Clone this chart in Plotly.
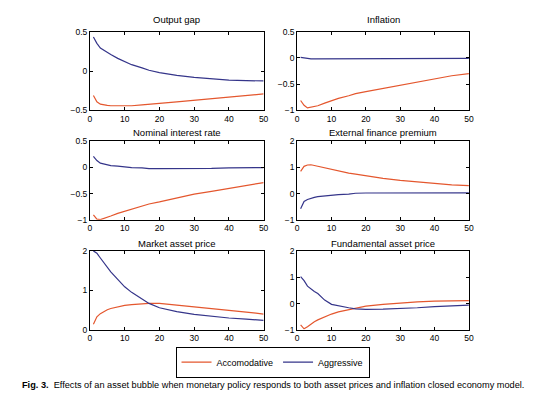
import plotly.graph_objects as go

periods = [1, 2, 3, 4, 5, 6, 8, 10, 12, 15, 17, 20, 25, 30, 35, 40, 45, 50]

output_gap_acc = [-0.31, -0.39, -0.42, -0.43, -0.435, -0.44, -0.44, -0.44, -0.44, -0.43, -0.42, -0.41, -0.39, -0.37, -0.35, -0.33, -0.31, -0.29]
output_gap_agg = [0.43, 0.35, 0.29, 0.26, 0.23, 0.21, 0.16, 0.12, 0.08, 0.04, 0.01, -0.02, -0.055, -0.08, -0.10, -0.115, -0.122, -0.125]

inflation_acc = [-0.81, -0.90, -0.95, -0.94, -0.925, -0.91, -0.86, -0.81, -0.77, -0.72, -0.68, -0.64, -0.58, -0.51, -0.45, -0.39, -0.34, -0.30]
inflation_agg = [0.01, 0.0, -0.02, -0.02, -0.02, -0.02, -0.02, -0.02, -0.02, -0.02, -0.01, -0.01, -0.01, -0.01, -0.01, -0.01, -0.01, -0.01]

nominal_acc = [-0.91, -0.99, -1.0, -0.98, -0.95, -0.93, -0.88, -0.84, -0.80, -0.74, -0.70, -0.66, -0.59, -0.51, -0.46, -0.40, -0.34, -0.29]
nominal_agg = [0.21, 0.13, 0.08, 0.06, 0.045, 0.035, 0.025, 0.005, -0.005, -0.01, -0.025, -0.025, -0.025, -0.025, -0.02, -0.01, -0.005, -0.005]

efp_acc = [0.85, 1.04, 1.09, 1.10, 1.07, 1.04, 0.96, 0.90, 0.85, 0.78, 0.74, 0.67, 0.58, 0.50, 0.44, 0.38, 0.33, 0.30]
efp_agg = [-0.58, -0.30, -0.23, -0.18, -0.15, -0.12, -0.09, -0.06, -0.04, -0.02, 0.01, 0.02, 0.025, 0.025, 0.025, 0.025, 0.025, 0.025]

market_acc = [0.14, 0.33, 0.41, 0.47, 0.51, 0.54, 0.58, 0.62, 0.64, 0.66, 0.67, 0.67, 0.62, 0.58, 0.54, 0.50, 0.45, 0.40]
market_agg = [2.0, 1.94, 1.82, 1.70, 1.57, 1.47, 1.28, 1.09, 0.95, 0.78, 0.67, 0.56, 0.46, 0.39, 0.34, 0.30, 0.27, 0.24]

fund_acc = [-0.81, -0.96, -0.88, -0.78, -0.69, -0.62, -0.50, -0.40, -0.32, -0.24, -0.19, -0.10, -0.03, 0.02, 0.06, 0.09, 0.11, 0.11]
fund_agg = [1.02, 0.87, 0.66, 0.55, 0.46, 0.38, 0.13, -0.03, -0.09, -0.16, -0.20, -0.22, -0.21, -0.19, -0.16, -0.12, -0.09, -0.06]

titles = ["Output gap", "Inflation", "Nominal interest rate", "External finance premium",
          "Market asset price", "Fundamental asset price"]
acc_series = [output_gap_acc, inflation_acc, nominal_acc, efp_acc, market_acc, fund_acc]
agg_series = [output_gap_agg, inflation_agg, nominal_agg, efp_agg, market_agg, fund_agg]
y_ranges = [[-0.5, 0.5], [-1, 0.5], [-1, 0.5], [-1, 2], [0, 2], [-1, 2]]
y_ticks = [[-0.5, 0, 0.5], [-1, -0.5, 0, 0.5], [-1, -0.5, 0, 0.5], [-1, 0, 1, 2], [0, 1, 2], [-1, 0, 1, 2]]
x_ticks = [0, 10, 20, 30, 40, 50]

W, H = 534, 399
RED = "#e4572e"
BLUE = "#35358a"

# pixel layout
col_x = [(81, 257), (291, 465)]
row_y = [(19, 100), (131.5, 212), (244, 325)]
title_y = [7, 123, 236]

fig = go.Figure()
layout = dict(
    width=W, height=H, margin=dict(l=0, r=0, t=0, b=0),
    paper_bgcolor="white", plot_bgcolor="white",
    font=dict(family="Liberation Sans, Arial, sans-serif", size=8.5, color="black"),
    showlegend=True,
)
annotations = []
for i in range(6):
    r, c = divmod(i, 2)
    xa = "x" if i == 0 else f"x{i+1}"
    ya = "y" if i == 0 else f"y{i+1}"
    xkey = "xaxis" if i == 0 else f"xaxis{i+1}"
    ykey = "yaxis" if i == 0 else f"yaxis{i+1}"
    x0, x1 = col_x[c]
    y0, y1 = row_y[r]
    layout[xkey] = dict(domain=[x0 / W, x1 / W], anchor=ya, range=[0, 50], tickvals=x_ticks,
                        showgrid=False, zeroline=False, showline=True, linecolor="black", linewidth=1,
                        mirror="allticks", ticks="inside", ticklen=3, tickcolor="black",
                        tickfont=dict(size=8.5))
    layout[ykey] = dict(domain=[1 - y1 / H, 1 - y0 / H], anchor=xa, range=y_ranges[i], tickvals=y_ticks[i],
                        showgrid=False, zeroline=False, showline=True, linecolor="black", linewidth=1,
                        mirror="allticks", ticks="inside", ticklen=3, tickcolor="black",
                        tickfont=dict(size=8.5))
    fig.add_trace(go.Scatter(x=periods, y=acc_series[i], mode="lines", line=dict(color=RED, width=1.2),
                             name="Accomodative", xaxis=xa, yaxis=ya, showlegend=(i == 0)))
    fig.add_trace(go.Scatter(x=periods, y=agg_series[i], mode="lines", line=dict(color=BLUE, width=1.2),
                             name="Aggressive", xaxis=xa, yaxis=ya, showlegend=(i == 0)))
    annotations.append(dict(text=titles[i], xref="paper", yref="paper", x=(x0 + x1) / 2 / W,
                            y=1 - title_y[r] / H, xanchor="center", yanchor="middle", showarrow=False,
                            font=dict(size=9.5)))

annotations.append(dict(
    text="<b>Fig. 3.</b>  Effects of an asset bubble when monetary policy responds to both asset prices and inflation closed economy model.",
    xref="paper", yref="paper", x=10 / W, y=1 - 382 / H, xanchor="left", yanchor="middle",
    showarrow=False, font=dict(family="Liberation Sans Narrow, Liberation Sans, Arial", size=9.2)))

layout["annotations"] = annotations
layout["legend"] = dict(orientation="h", x=266 / W, y=1 - 358 / H, xanchor="center", yanchor="middle",
                        bordercolor="black", borderwidth=1, bgcolor="white", font=dict(size=9),
                        itemwidth=30, tracegroupgap=0)
fig.update_layout(**layout)
fig.write_html("out.html")
